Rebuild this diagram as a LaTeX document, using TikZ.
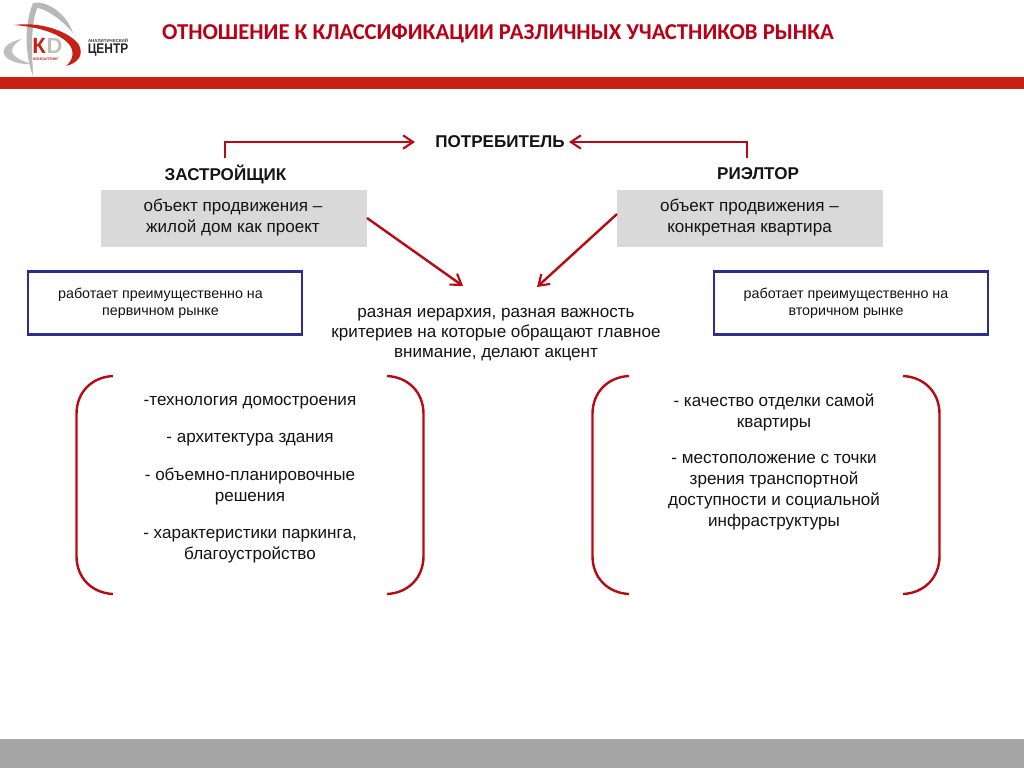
\documentclass[tikz,border=0pt]{standalone}
\usepackage{fontspec}
\setmainfont{Liberation Sans}
\newfontfamily\titlefont{Carlito}
\usetikzlibrary{arrows.meta}
\definecolor{barred}{RGB}{200,32,20}
\definecolor{titlered}{RGB}{185,0,20}
\definecolor{linered}{RGB}{185,10,20}
\definecolor{boxgrey}{RGB}{217,217,217}
\definecolor{footgrey}{RGB}{166,166,166}
\definecolor{navy}{RGB}{45,45,145}
\definecolor{ink}{RGB}{20,20,20}
\tikzset{
  x=0.75pt,y=-0.75pt,
  conn/.style={draw=linered,line width=1.8pt,-{Straight Barb[length=7.5pt,width=10pt,line width=1.6pt]}},
  brace/.style={draw=linered,line width=1.8pt},
  txt/.style={inner sep=0pt,align=center,text=ink,font=\fontsize{12.8}{15.75}\selectfont},
  small/.style={inner sep=0pt,align=center,text=ink,font=\fontsize{10.7}{13}\selectfont},
  head/.style={inner sep=0pt,text=ink,font=\fontsize{12.8}{14}\selectfont\bfseries},
  greybox/.style={fill=boxgrey,inner sep=0pt,minimum width=200pt,minimum height=42.75pt},
  bluebox/.style={draw=navy,line width=2pt,fill=white,inner sep=0pt,minimum width=205.5pt,minimum height=47.5pt},
}
\begin{document}
\begin{tikzpicture}
\useasboundingbox (0,0) rectangle (1024,768);
\fill[white] (0,0) rectangle (1024,768);
% bars
\fill[barred] (0,77) rectangle (1024,89);
\fill[footgrey] (0,739) rectangle (1024,768);
% logo
\fill[black!28] (33,3) .. controls (24,25) and (25,55) .. (33,76) .. controls (32,50) and (30,25) .. (38,6) -- cycle;
\fill[black!28] (33,3) .. controls (45,0) and (66,12) .. (73,33) .. controls (62,20) and (48,10) .. (38,8) -- cycle;
\fill[black!25] (22,39) .. controls (6,42) and (1,50) .. (5,56) .. controls (10,62) and (22,65) .. (34,64) .. controls (22,62) and (12,56) .. (12,51) .. controls (12,46) and (17,42) .. (22,39) -- cycle;
\fill[barred] (14,25) .. controls (45,21) and (72,34) .. (79,45) .. controls (84,55) and (78,63) .. (66,66) .. controls (73,60) and (75,52) .. (69,44) .. controls (60,34) and (40,27) .. (14,25) -- cycle;
\node[inner sep=0pt,text=barred,font=\fontsize{16.5}{16.5}\selectfont\bfseries] (logok) at (39,45.5) {К};
\node[inner sep=0pt,text=black!25,font=\fontsize{16.5}{16.5}\selectfont\bfseries] (logod) at (54.5,45.5) {D};
\node[inner sep=0pt,text=barred,font=\fontsize{2.8}{2.8}\selectfont\bfseries] (logoc) at (46,59) {КОНСАЛТИНГ};
\node[inner sep=0pt,text=black!75,font=\fontsize{3.3}{3.3}\selectfont\bfseries] (logoa) at (108,41) {АНАЛИТИЧЕСКИЙ};
\node[inner sep=0pt,text=black!85,font=\fontsize{10.5}{10.5}\selectfont\bfseries,xscale=0.85,transform shape] (logot) at (108,50) {ЦЕНТР};
% title
\node[inner sep=0pt,text=titlered,font=\fontsize{17.03}{18}\titlefont\bfseries] (title) at (498,33.5) {ОТНОШЕНИЕ К КЛАССИФИКАЦИИ РАЗЛИЧНЫХ УЧАСТНИКОВ РЫНКА};
% headings
\node[head] (cons) at (500,142) {ПОТРЕБИТЕЛЬ};
\node[head] (dev) at (225.5,174) {ЗАСТРОЙЩИК};
\node[head] (real) at (758,174) {РИЭЛТОР};
% grey boxes
\node[greybox] (devbox) at (234,218.5) {};
\node[txt] (devtxt) at (233,217.5) {объект продвижения –\\жилой дом как проект};
\node[greybox] (realbox) at (750,218.5) {};
\node[txt] (realtxt) at (749.5,217.5) {объект продвижения –\\конкретная квартира};
% blue boxes
\node[bluebox] (devmk) at (165,303) {};
\node[small] (devmkt) at (160.5,303.5) {работает преимущественно на\\первичном рынке};
\node[bluebox] (realmk) at (851,303) {};
\node[small] (realmkt) at (846,303.5) {работает преимущественно на\\вторичном рынке};
% centre
\node[txt,font=\fontsize{12.8}{15}\selectfont] (centre) at (496,335) {разная иерархия, разная важность\\критериев на которые обращают главное\\внимание, делают акцент};
% connectors
\coordinate (c1) at (225,158);
\coordinate (c2) at (225,142);
\coordinate (c3) at (415,142);
\coordinate (c4) at (747,158);
\coordinate (c5) at (747,142);
\coordinate (c6) at (569,142);
\draw[conn] (c1) -- (c2) -- (c3);
\draw[conn] (c4) -- (c5) -- (c6);
\coordinate (d1) at (367,218);
\coordinate (d2) at (463,286);
\coordinate (d3) at (617,214);
\coordinate (d4) at (537,287);
\draw[conn] (d1) -- (d2);
\draw[conn] (d3) -- (d4);
% brackets
\draw[brace] (113,376) .. controls (92,377) and (76.5,392) .. (76.5,414) -- (76.5,556) .. controls (76.5,578) and (92,593) .. (113,594);
\draw[brace] (387,376) .. controls (408,377) and (423.5,392) .. (423.5,414) -- (423.5,556) .. controls (423.5,578) and (408,593) .. (387,594);
\draw[brace] (629,376) .. controls (608,377) and (592.5,392) .. (592.5,414) -- (592.5,556) .. controls (592.5,578) and (608,593) .. (629,594);
\draw[brace] (903,376) .. controls (924,377) and (939.5,392) .. (939.5,414) -- (939.5,556) .. controls (939.5,578) and (924,593) .. (903,594);
% left list
\node[txt] (l1) at (250,403) {-технология домостроения};
\node[txt] (l2) at (250,440) {- архитектура здания};
\node[txt] (l3) at (250,487) {- объемно-планировочные\\решения};
\node[txt] (l4) at (250,546) {- характеристики паркинга,\\благоустройство};
% right list
\node[txt] (r1) at (774,412) {- качество отделки самой\\квартиры};
\node[txt] (r2) at (774,492) {- местоположение с точки\\зрения транспортной\\доступности и социальной\\инфраструктуры};
\end{tikzpicture}
\end{document}
